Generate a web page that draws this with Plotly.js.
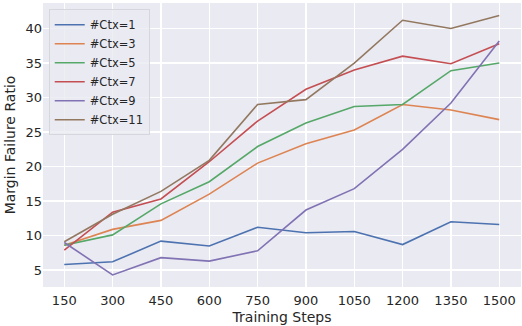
<!DOCTYPE html>
<html>
<head>
<meta charset="utf-8">
<script src="https://cdn.plot.ly/plotly-3.0.1.min.js"></script>
<style>
  html, body { margin: 0; padding: 0; background: #ffffff; }
  #chart { width: 522px; height: 326px; }
</style>
</head>
<body>
<div id="chart"></div>
<script>
// training steps on the x axis
var steps = ['150', '300', '450', '600', '750', '900', '1050', '1200', '1350', '1500'];

// margin failure ratio per number of contexts
var ctx1  = [5.8, 6.2, 9.2, 8.5, 11.2, 10.4, 10.6, 8.7, 12.0, 11.6];
var ctx3  = [8.6, 10.9, 12.2, 16.0, 20.5, 23.3, 25.3, 29.0, 28.2, 26.8];
var ctx5  = [8.6, 10.1, 14.6, 17.8, 22.9, 26.3, 28.7, 29.0, 33.9, 35.0];
var ctx7  = [7.9, 13.4, 15.3, 20.7, 26.6, 31.2, 34.0, 36.0, 34.9, 37.8];
var ctx9  = [9.0, 4.3, 6.8, 6.3, 7.8, 13.7, 16.8, 22.5, 29.2, 38.2];
var ctx11 = [9.1, 13.1, 16.4, 20.9, 29.0, 29.7, 35.0, 41.2, 40.0, 41.9];

var names  = ['#Ctx=1', '#Ctx=3', '#Ctx=5', '#Ctx=7', '#Ctx=9', '#Ctx=11'];
var series = [ctx1, ctx3, ctx5, ctx7, ctx9, ctx11];
var colors = ['#4c72b0', '#dd8452', '#55a868', '#c44e52', '#8172b3', '#937860'];

var data = series.map(function (ys, i) {
  return {
    x: steps,
    y: ys,
    name: names[i],
    type: 'scatter',
    mode: 'lines',
    line: {color: colors[i], width: 1.6}
  };
});

var layout = {
  width: 522,
  height: 326,
  margin: {l: 43, r: 1, t: 3, b: 39},
  paper_bgcolor: '#ffffff',
  plot_bgcolor: '#eaeaf2',
  font: {family: 'DejaVu Sans', size: 13, color: '#262626'},
  showlegend: true,
  legend: {
    x: 0.012, y: 0.978, xanchor: 'left', yanchor: 'top',
    bgcolor: 'rgba(234,234,242,0.8)',
    bordercolor: '#d6d6dc', borderwidth: 1,
    font: {size: 11.5, color: '#262626'},
    itemwidth: 30
  },
  xaxis: {
    type: 'category',
    range: [-0.44, 9.45],
    showgrid: true, gridcolor: '#ffffff', gridwidth: 1.2,
    zeroline: false, showline: false,
    ticks: '', ticklabelstandoff: 4,
    tickfont: {size: 13},
    title: {text: 'Training Steps', font: {size: 14}, standoff: 5}
  },
  yaxis: {
    range: [2.55, 43.7],
    tickvals: [5, 10, 15, 20, 25, 30, 35, 40],
    showgrid: true, gridcolor: '#ffffff', gridwidth: 1.2,
    zeroline: false, showline: false,
    ticks: '',
    tickfont: {size: 13},
    title: {text: 'Margin Failure Ratio', font: {size: 14}, standoff: 6}
  }
};

Plotly.newPlot('chart', data, layout, {displayModeBar: false, staticPlot: true});
</script>
</body>
</html>
